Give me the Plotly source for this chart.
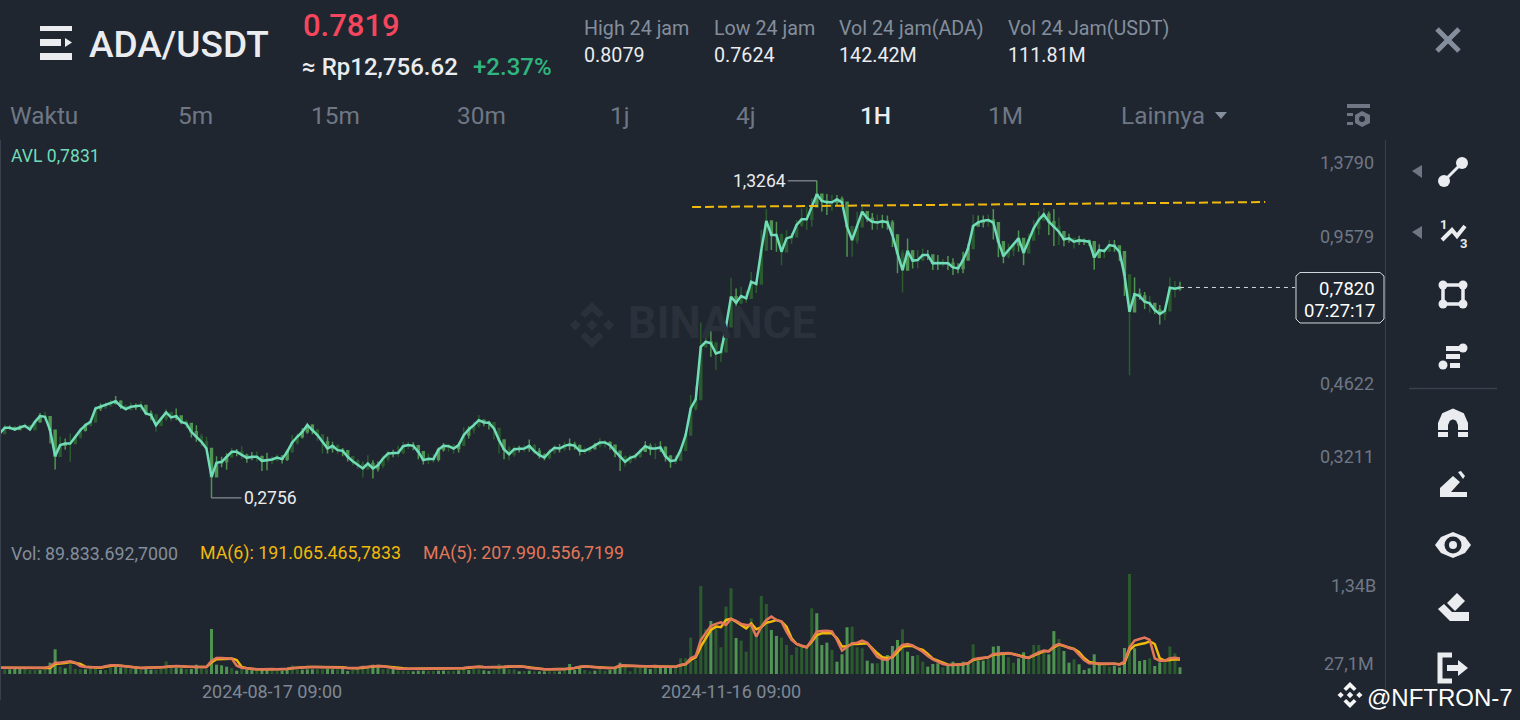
import math
import pandas as pd
import plotly.graph_objects as go

BG = "#1f2630"
GRID_LINE = "#3a414c"
LIGHT_GREEN = "#4f9450"
DARK_GREEN = "#2b5a2e"
ICON = "#eaecef"
GREY = "#848e9c"
DIM = "#6f7785"

W = 1520
H = 720

# daily values, 2024-06-24 to 2025-02-13
closes = [
    .3793, .3900, .3900, .3869, .3907, .3939, .3869, .4018, .4134, .4119,
    .3856, .3390, .3580, .3609, .3609, .3731, .3856, .3953, .4018, .4293,
    .4329, .4365, .4401, .4452, .4343, .4279, .4329, .4343, .4357, .4188,
    .4154, .3953, .4086, .4209, .4106, .4134, .4018, .3985, .3824, .3731,
    .3639, .3521, .3059, .3279, .3296, .3379, .3463, .3463, .3406, .3362,
    .3379, .3379, .3312, .3323, .3334, .3367, .3340, .3463, .3627, .3731,
    .3824, .3953, .3856, .3762, .3639, .3521, .3568, .3492, .3480, .3379,
    .3306, .3252, .3189, .3268, .3189, .3241, .3351, .3434, .3434, .3446,
    .3562, .3580, .3568, .3463, .3323, .3345, .3340, .3503, .3568, .3562,
    .3521, .3580, .3762, .3869, .3953, .4052, .4005, .3999, .3888, .3670,
    .3503, .3423, .3509, .3521, .3521, .3568, .3475, .3406, .3367, .3463,
    .3533, .3521, .3568, .3592, .3568, .3480, .3480, .3521, .3580, .3627,
    .3627, .3580, .3475, .3379, .3296, .3362, .3390, .3475, .3562, .3521,
    .3521, .3538, .3390, .3306, .3323, .3492, .3762, .4293, .4489, .5828,
    .5975, .5926, .5639, .5686, .6436, .7469, .7252, .7494, .7409, .8045,
    .7954, .9413, 1.0870, 1.0141, 1.0141, .9336, .9974, 1.0057, 1.0656, 1.0960,
    1.0960, 1.1669, 1.2405, 1.2003, 1.1924, 1.1924, 1.2101, 1.1924, 1.0568, .9892,
    1.0568, 1.1384, 1.1014, 1.0834, 1.0797, 1.0852, 1.0797, 1.0141, .9259, .8524,
    .9367, .8929, .8958, .9182, .9182, .8813, .8827, .8827, .8813, .8639,
    .8596, .8958, .9491, 1.0603, 1.0797, 1.0888, 1.0923, 1.0780, .9811, .9136,
    .9413, .9650, .9974, .9290, .9892, 1.0481, 1.0923, 1.1235, 1.0834, 1.0568,
    1.0309, .9924, .9974, .9811, .9876, .9844, .9811, .9078, .9413, .9367,
    .9650, .9602, .9336, .8316, .6934, .7568, .7494, .7287, .7227, .6992,
    .6854, .6968, .7810, .7771, .7820,
]
opens = [
    .3760, .3793, .3900, .3900, .3869, .3907, .3939, .3869, .4018, .4134,
    .4119, .3856, .3390, .3580, .3609, .3609, .3731, .3856, .3953, .4018,
    .4293, .4329, .4365, .4401, .4452, .4343, .4279, .4329, .4343, .4357,
    .4188, .4154, .3953, .4086, .4209, .4106, .4134, .4018, .3985, .3824,
    .3731, .3639, .3521, .3059, .3279, .3296, .3379, .3463, .3463, .3406,
    .3362, .3379, .3379, .3312, .3323, .3334, .3367, .3340, .3463, .3627,
    .3731, .3824, .3953, .3856, .3762, .3639, .3521, .3568, .3492, .3480,
    .3379, .3306, .3252, .3189, .3268, .3189, .3241, .3351, .3434, .3434,
    .3446, .3562, .3580, .3568, .3463, .3323, .3345, .3340, .3503, .3568,
    .3562, .3521, .3580, .3762, .3869, .3953, .4052, .4005, .3999, .3888,
    .3670, .3503, .3423, .3509, .3521, .3521, .3568, .3475, .3406, .3367,
    .3463, .3533, .3521, .3568, .3592, .3568, .3480, .3480, .3521, .3580,
    .3627, .3627, .3580, .3475, .3379, .3296, .3362, .3390, .3475, .3562,
    .3521, .3521, .3538, .3390, .3306, .3323, .3492, .3762, .4293, .4489,
    .5828, .5975, .5926, .5639, .5686, .6436, .7469, .7252, .7494, .7409,
    .8045, .7954, .9413, 1.0870, 1.0141, 1.0141, .9336, .9974, 1.0057, 1.0656,
    1.0960, 1.0960, 1.1669, 1.2405, 1.2003, 1.1924, 1.1924, 1.2101, 1.1924, 1.0568,
    .9892, 1.0568, 1.1384, 1.1014, 1.0834, 1.0797, 1.0852, 1.0797, 1.0141, .9259,
    .8524, .9367, .8929, .8958, .9182, .9182, .8813, .8827, .8827, .8813,
    .8639, .8596, .8958, .9491, 1.0603, 1.0797, 1.0888, 1.0923, 1.0780, .9811,
    .9136, .9413, .9650, .9974, .9290, .9892, 1.0481, 1.0923, 1.1235, 1.0834,
    1.0568, 1.0309, .9924, .9974, .9811, .9876, .9844, .9811, .9078, .9413,
    .9367, .9650, .9602, .9336, .8316, .6934, .7568, .7494, .7287, .7227,
    .6992, .6854, .6968, .7810, .7771,
]
highs = [
    .3860, .3960, .3945, .3925, .3950, .3985, .3950, .4040, .4200, .4223,
    .4119, .3780, .3731, .3700, .3793, .3760, .3900, .3990, .4090, .4340,
    .4400, .4420, .4480, .4565, .4470, .4370, .4420, .4400, .4450, .4360,
    .4250, .4170, .4120, .4280, .4220, .4290, .4130, .4060, .3990, .3953,
    .3790, .3731, .3497, .3390, .3380, .3440, .3530, .3510, .3562, .3430,
    .3460, .3470, .3400, .3446, .3390, .3420, .3410, .3500, .3762, .3790,
    .3890, .4000, .3970, .3880, .3731, .3731, .3639, .3590, .3530, .3480,
    .3390, .3340, .3300, .3406, .3323, .3300, .3400, .3480, .3500, .3568,
    .3640, .3640, .3630, .3568, .3450, .3434, .3423, .3540, .3620, .3600,
    .3600, .3630, .3913, .3930, .4018, .4154, .4060, .4040, .3985, .3856,
    .3639, .3560, .3560, .3570, .3580, .3680, .3600, .3530, .3440, .3510,
    .3580, .3600, .3640, .3700, .3640, .3590, .3540, .3560, .3620, .3710,
    .3670, .3650, .3590, .3463, .3400, .3410, .3440, .3520, .3650, .3610,
    .3610, .3650, .3560, .3410, .3400, .3530, .3830, .4587, .4800, .6570,
    .6240, .6538, .5975, .5926, .6570, .8201, .7779, .7846, .7700, .8451,
    .8125, 1.0398, 1.1531, 1.0732, 1.0834, 1.0222, 1.0398, 1.0250, 1.0923, 1.1565,
    1.1669, 1.2170, 1.3264, 1.2428, 1.2428, 1.2370, 1.2370, 1.2270, 1.1924, 1.0568,
    1.1384, 1.1669, 1.1315, 1.1315, 1.1219, 1.1219, 1.1176, 1.0923, 1.0141, .9413,
    .9974, .9413, .9413, .9491, .9413, .9182, .9182, .9000, .9136, .9040,
    .8813, .9336, .9722, 1.1219, 1.1176, 1.1176, 1.1219, 1.1531, 1.0222, .9602,
    .9722, .9762, 1.0375, .9924, 1.0222, 1.0923, 1.1430, 1.1613, 1.1400, 1.1531,
    1.1055, 1.0222, 1.0200, .9974, 1.0100, .9974, .9924, .9650, .9690, .9491,
    .9892, .9892, .9602, .9104, .8247, .8220, .7779, .7650, .7494, .7193,
    .7170, .6992, .8220, .8070, .8045,
]
lows = [
    .3770, .3860, .3865, .3840, .3870, .3890, .3850, .3860, .4000, .4040,
    .3609, .3173, .3430, .3500, .3296, .3590, .3700, .3830, .3930, .4000,
    .4240, .4280, .4330, .4380, .4280, .4240, .4250, .4260, .4250, .4150,
    .4050, .3824, .3930, .4040, .4030, .4050, .3970, .3890, .3720, .3640,
    .3560, .3420, .2756, .3170, .3210, .3170, .3370, .3390, .3340, .3280,
    .3320, .3300, .3150, .3160, .3260, .3300, .3270, .3310, .3540, .3590,
    .3700, .3790, .3780, .3660, .3434, .3434, .3450, .3430, .3390, .3300,
    .3240, .3180, .3049, .3170, .3034, .3140, .3200, .3300, .3370, .3380,
    .3430, .3510, .3490, .3340, .3252, .3260, .3279, .3300, .3470, .3470,
    .3430, .3450, .3580, .3700, .3793, .3900, .3930, .3870, .3680, .3434,
    .3340, .3323, .3380, .3450, .3460, .3463, .3420, .3350, .3320, .3340,
    .3430, .3450, .3480, .3490, .3500, .3400, .3430, .3460, .3500, .3540,
    .3540, .3500, .3370, .3151, .3220, .3270, .3330, .3360, .3460, .3406,
    .3340, .3460, .3300, .3200, .3260, .3340, .3480, .4037, .4250, .4860,
    .5880, .5546, .5196, .5410, .5728, .6992, .6905, .7203, .7250, .7714,
    .7610, .8125, 1.0222, .9413, .9336, .8735, .9650, .9700, 1.0141, 1.0568,
    1.0404, 1.0568, 1.1769, 1.1400, 1.1200, 1.1430, 1.1769, 1.1860, .9104, .9104,
    .9722, 1.0923, 1.0834, 1.0404, 1.0404, 1.0481, 1.0404, .9555, .8396, .7626,
    .8813, .8596, .8596, .8958, .8958, .8524, .8524, .8680, .8524, .8316,
    .8396, .8396, .8958, .9602, 1.0568, 1.0530, 1.0568, .9924, .9078, .8813,
    .9040, .9136, .9336, .8735, .9259, .9892, 1.0141, 1.0923, 1.0141, .9602,
    .9650, .9590, .9762, .9491, .9650, .9650, .9602, .8540, .9040, .9040,
    .9336, .9336, .8920, .7494, .5060, .7133, .7360, .7025, .6905, .6854,
    .6505, .6650, .7100, .7440, .7690,
]
# volume in millions
volumes = [
    54, 63, 63, 67, 67, 67, 54, 54, 54, 98,
    152, 331, 98, 76, 130, 67, 63, 63, 98, 76,
    54, 54, 80, 98, 89, 80, 72, 72, 54, 67,
    58, 58, 67, 170, 98, 80, 76, 67, 67, 125,
    72, 63, 603, 125, 116, 98, 80, 45, 67, 54,
    58, 54, 63, 54, 54, 45, 45, 54, 116, 63,
    58, 63, 63, 63, 63, 67, 63, 63, 76, 40,
    58, 63, 116, 89, 125, 89, 63, 67, 72, 45,
    45, 45, 36, 45, 45, 40, 40, 45, 45, 40,
    40, 49, 98, 54, 67, 63, 49, 40, 54, 134,
    76, 63, 63, 36, 40, 45, 36, 36, 36, 36,
    36, 36, 80, 134, 54, 98, 54, 36, 45, 67,
    45, 54, 80, 152, 89, 36, 80, 80, 80, 67,
    125, 89, 89, 89, 89, 210, 210, 487, 188, 1180,
    599, 711, 635, 358, 903, 1149, 483, 447, 299, 746,
    501, 1046, 939, 590, 510, 487, 389, 255, 358, 358,
    358, 881, 814, 389, 420, 322, 165, 264, 626, 635,
    358, 344, 179, 143, 143, 188, 255, 375, 456, 599,
    299, 241, 255, 165, 98, 134, 143, 89, 107, 165,
    107, 165, 152, 398, 179, 179, 197, 367, 375, 255,
    224, 152, 210, 291, 210, 389, 389, 291, 264, 575,
    469, 308, 152, 197, 130, 54, 76, 264, 121, 107,
    98, 112, 89, 349, 1340, 344, 174, 188, 210, 107,
    156, 156, 367, 277, 89.83,
]
ma5 = [
    85, 85, 85, 85, 85, 85, 85, 85, 85, 85,
    98, 152, 152, 161, 170, 152, 107, 94, 94, 85,
    89, 103, 116, 116, 107, 98, 94, 85, 80, 85,
    85, 85, 89, 98, 107, 107, 103, 98, 89, 94,
    94, 94, 179, 215, 215, 215, 206, 112, 85, 76,
    67, 63, 63, 67, 67, 63, 63, 72, 80, 85,
    94, 98, 94, 94, 94, 94, 94, 94, 85, 80,
    76, 80, 89, 98, 107, 107, 103, 89, 80, 72,
    76, 72, 72, 72, 72, 72, 72, 72, 72, 72,
    72, 72, 80, 89, 98, 98, 89, 89, 89, 94,
    98, 103, 103, 103, 98, 80, 72, 63, 63, 63,
    63, 58, 63, 76, 80, 98, 103, 98, 89, 85,
    80, 80, 85, 116, 112, 107, 103, 103, 103, 103,
    107, 98, 98, 98, 98, 121, 134, 210, 241, 456,
    545, 644, 671, 693, 657, 738, 711, 671, 657, 657,
    501, 635, 724, 769, 724, 702, 568, 456, 402, 375,
    358, 456, 568, 577, 581, 572, 456, 313, 367, 411,
    420, 447, 420, 322, 232, 197, 188, 241, 331, 389,
    402, 384, 344, 299, 241, 197, 165, 134, 121, 121,
    121, 130, 143, 197, 210, 219, 224, 268, 277, 277,
    282, 268, 246, 224, 219, 255, 291, 313, 304, 375,
    402, 380, 349, 331, 264, 188, 143, 143, 134, 134,
    134, 139, 125, 165, 358, 447, 469, 487, 456, 210,
    179, 179, 210, 219, 207.99,
]
ma6 = [
    85, 85, 85, 85, 85, 85, 85, 85, 85, 85,
    80, 134, 139, 148, 161, 152, 134, 98, 94, 85,
    85, 98, 112, 116, 112, 103, 94, 89, 80, 85,
    85, 85, 85, 94, 103, 107, 103, 98, 94, 94,
    94, 94, 156, 197, 201, 206, 206, 188, 94, 76,
    67, 63, 63, 63, 67, 67, 63, 67, 76, 85,
    89, 94, 94, 94, 94, 94, 94, 94, 89, 80,
    76, 76, 85, 94, 103, 107, 103, 94, 85, 76,
    76, 72, 72, 72, 72, 72, 72, 72, 72, 72,
    72, 72, 76, 85, 94, 98, 94, 89, 89, 89,
    94, 98, 103, 103, 98, 89, 76, 67, 63, 63,
    63, 63, 63, 72, 80, 94, 103, 98, 94, 85,
    80, 80, 85, 107, 112, 107, 103, 103, 103, 103,
    103, 98, 98, 98, 98, 116, 130, 188, 224, 367,
    478, 590, 635, 626, 724, 738, 702, 657, 612, 679,
    599, 626, 688, 702, 724, 702, 635, 478, 402, 375,
    358, 434, 523, 545, 550, 545, 478, 367, 367, 402,
    402, 411, 411, 344, 277, 224, 215, 224, 299, 367,
    375, 375, 344, 322, 268, 206, 179, 148, 125, 121,
    121, 130, 143, 188, 201, 215, 224, 259, 268, 277,
    277, 268, 250, 232, 215, 246, 277, 304, 308, 358,
    393, 375, 349, 335, 291, 215, 161, 148, 134, 134,
    139, 139, 130, 148, 322, 380, 398, 411, 438, 402,
    210, 179, 188, 197, 191.07,
]
# 1 where the candle and its volume bar are the darker green
dark_days = [
    1, 1, 0, 0, 0, 1, 1, 1, 0, 1,
    0, 0, 1, 0, 1, 1, 1, 0, 1, 1,
    0, 1, 1, 0, 0, 1, 1, 0, 1, 0,
    0, 1, 1, 1, 1, 0, 0, 1, 0, 0,
    1, 1, 0, 0, 0, 0, 1, 0, 1, 0,
    0, 1, 0, 0, 1, 1, 0, 0, 1, 1,
    0, 0, 0, 1, 1, 0, 0, 1, 0, 0,
    1, 1, 1, 1, 0, 0, 1, 1, 0, 1,
    1, 1, 0, 0, 0, 1, 1, 0, 0, 1,
    1, 0, 1, 0, 1, 1, 0, 0, 1, 1,
    0, 1, 1, 0, 1, 0, 1, 0, 0, 1,
    1, 0, 1, 0, 0, 0, 1, 1, 0, 1,
    1, 0, 0, 0, 1, 1, 1, 1, 0, 0,
    1, 0, 0, 0, 1, 1, 1, 1, 1, 1,
    1, 0, 1, 1, 1, 1, 0, 1, 1, 1,
    1, 1, 1, 0, 0, 1, 1, 1, 1, 1,
    1, 1, 0, 0, 0, 1, 0, 0, 0, 1,
    1, 1, 0, 0, 1, 0, 0, 0, 0, 1,
    0, 0, 1, 1, 0, 0, 0, 1, 0, 0,
    0, 0, 0, 1, 0, 0, 1, 0, 0, 0,
    1, 1, 0, 0, 1, 1, 1, 1, 0, 0,
    1, 0, 0, 1, 0, 0, 0, 0, 0, 1,
    1, 0, 0, 0, 1, 0, 0, 0, 1, 0,
    0, 1, 1, 1, 0,
]
assert len(closes) == len(opens) == len(highs) == len(lows) == len(volumes) == len(ma5) == len(ma6) == len(dark_days)

dates = pd.date_range("2024-06-24 09:00", periods=len(closes), freq="D")
price_ticks = [1.3790, 0.9579, 0.4622, 0.3211]
date_ticks = ["2024-08-17 09:00", "2024-11-16 09:00"]
trend_x = ["2024-11-08 15:30", "2025-03-02 06:30"]
trend_y = [1.165, 1.194]
last_x = [dates[-1], "2025-03-08 04:00"]


def px(x):
    return x / W


def py(y):
    return 1 - y / H


def poly(pts, fill=None, line=None, width=0, closed=True, layer="above"):
    d = ""
    for i, (x, y) in enumerate(pts):
        d += ("M" if i == 0 else "L") + f"{px(x):.5f},{py(y):.5f}"
    if closed:
        d += "Z"
    s = dict(type="path", xref="paper", yref="paper", path=d, layer=layer, line=dict(width=width))
    if fill:
        s["fillcolor"] = fill
    if line:
        s["line"] = dict(color=line, width=width)
    return s


def circle(cx, cy, r, fill, layer="above"):
    return dict(type="circle", xref="paper", yref="paper", layer=layer, fillcolor=fill, line=dict(width=0),
                x0=px(cx - r), x1=px(cx + r), y0=py(cy + r), y1=py(cy - r))


def rect(x0, y0, x1, y1, fill):
    return poly([(x0, y0), (x1, y0), (x1, y1), (x0, y1)], fill=fill)


def diamond(cx, cy, r, fill, layer="above"):
    return poly([(cx, cy - r), (cx + r, cy), (cx, cy + r), (cx - r, cy)], fill=fill, layer=layer)


def logo(cx, cy, s, fill, layer="above"):
    out = [diamond(cx, cy, s * .25, fill, layer), diamond(cx - s * .72, cy, s * .24, fill, layer),
           diamond(cx + s * .72, cy, s * .24, fill, layer)]
    out.append(poly([(cx, cy - s), (cx + s * .5, cy - s * .5), (cx + s * .3, cy - s * .3), (cx, cy - s * .6),
                     (cx - s * .3, cy - s * .3), (cx - s * .5, cy - s * .5)], fill=fill, layer=layer))
    out.append(poly([(cx, cy + s), (cx + s * .5, cy + s * .5), (cx + s * .3, cy + s * .3), (cx, cy + s * .6),
                     (cx - s * .3, cy + s * .3), (cx - s * .5, cy + s * .5)], fill=fill, layer=layer))
    return out


def label(x, y, text, size, color, anchor="left", weight=400, family="Roboto"):
    # annotations carry about 2px of padding
    if anchor == "left":
        x -= 2
    elif anchor == "right":
        x += 2
    return dict(xref="paper", yref="paper", x=px(x), y=py(y), text=text, showarrow=False, xanchor=anchor,
                yanchor="middle", font=dict(size=size, color=color, weight=weight, family=family))


fig = go.Figure()

for shade, color in [(0, LIGHT_GREEN), (1, DARK_GREEN)]:
    keep = [i for i in range(len(closes)) if dark_days[i] == shade]
    fig.add_trace(go.Candlestick(
        x=[dates[i] for i in keep],
        open=[opens[i] for i in keep],
        high=[highs[i] for i in keep],
        low=[lows[i] for i in keep],
        close=[closes[i] for i in keep],
        increasing=dict(line=dict(color=color, width=1.5), fillcolor=color),
        decreasing=dict(line=dict(color=color, width=1.5), fillcolor=color),
        whiskerwidth=0, hoverinfo="skip", showlegend=False,
    ))

fig.add_trace(go.Scatter(x=dates, y=closes, mode="lines", line=dict(color="#70dcb9", width=2.5), hoverinfo="skip"))
fig.add_trace(go.Scatter(x=trend_x, y=trend_y, mode="lines", line=dict(color="#f0b90b", width=2, dash="9px,4px"),
                         hoverinfo="skip"))
fig.add_trace(go.Scatter(x=last_x, y=[closes[-1], closes[-1]], mode="lines",
                         line=dict(color="#d5d8dc", width=1, dash="4px,4px"), hoverinfo="skip"))

fig.add_trace(go.Bar(x=dates, y=volumes, yaxis="y2", marker=dict(color=[DARK_GREEN if d else LIGHT_GREEN for d in dark_days], line=dict(width=0)),
                     hoverinfo="skip"))
fig.add_trace(go.Scatter(x=dates, y=ma6, yaxis="y2", mode="lines", line=dict(color="#f0b90b", width=2.5), hoverinfo="skip"))
fig.add_trace(go.Scatter(x=dates, y=ma5, yaxis="y2", mode="lines", line=dict(color="#e3775a", width=2.5), hoverinfo="skip"))

shapes = []
# panel lines
shapes.append(poly([(1385.5, 140), (1385.5, 700)], line=GRID_LINE, width=1, closed=False))
shapes.append(poly([(0.5, 140), (0.5, 700)], line=GRID_LINE, width=1, closed=False))
shapes.append(poly([(1409, 388.5), (1497, 388.5)], line=GRID_LINE, width=1.5, closed=False))
# watermark
shapes += logo(592, 325, 23, "#2a313b", layer="below")
# menu icon
shapes.append(rect(40, 26, 72, 31, ICON))
shapes.append(rect(40, 39, 61, 46, ICON))
shapes.append(poly([(65, 38), (72, 42.5), (65, 47)], fill=ICON))
shapes.append(rect(40, 53, 72, 60, ICON))
# close
shapes.append(poly([(1437, 29), (1459, 51)], line=GREY, width=5, closed=False))
shapes.append(poly([(1459, 29), (1437, 51)], line=GREY, width=5, closed=False))
# lainnya triangle
shapes.append(poly([(1215, 112), (1227, 112), (1221, 119)], fill=GREY))
# settings
shapes.append(rect(1347, 104, 1370, 108, DIM))
shapes.append(rect(1347, 113, 1353, 116, DIM))
shapes.append(rect(1347, 122, 1353, 125, DIM))
shapes.append(poly([(1362, 111), (1370, 115), (1370, 123), (1362, 127), (1355, 123), (1355, 115)], fill=DIM))
shapes.append(circle(1362, 119, 3, BG))
# tool arrows
shapes.append(poly([(1412, 171), (1422, 165), (1422, 178)], fill=DIM))
shapes.append(poly([(1412, 232), (1422, 226), (1422, 239)], fill=DIM))
# line tool
shapes.append(poly([(1444, 181), (1462, 163)], line=ICON, width=3, closed=False))
shapes.append(circle(1444, 181, 6, ICON))
shapes.append(circle(1462, 163, 6, ICON))
# fib zigzag
shapes.append(poly([(1442, 240), (1452, 230), (1457, 236), (1465, 226)], line=ICON, width=4, closed=False))
# rectangle tool
shapes.append(poly([(1443, 285), (1463, 285), (1463, 304), (1443, 304)], line=ICON, width=3.5))
for cx, cy in [(1443, 285), (1463, 285), (1443, 304), (1463, 304)]:
    shapes.append(circle(cx, cy, 4.5, ICON))
# long tool
shapes.append(rect(1446, 346, 1462, 351, ICON))
shapes.append(rect(1446, 354, 1460, 359, ICON))
shapes.append(rect(1450, 363, 1460, 368, ICON))
shapes.append(circle(1463, 348, 4.5, ICON))
shapes.append(circle(1443, 365, 4.5, ICON))
# magnet
shapes.append(poly([(1443, 430), (1443, 424), (1446, 417), (1453, 414), (1460, 417), (1463, 424), (1463, 430)],
                   line=ICON, width=10, closed=False))
shapes.append(rect(1438, 432, 1448, 437, ICON))
shapes.append(rect(1458, 432, 1468, 437, ICON))
# pencil
shapes.append(poly([(1440, 497), (1467, 497), (1467, 492), (1451, 492), (1460, 482), (1453, 476), (1440, 488)], fill=ICON))
shapes.append(poly([(1458, 472), (1461, 471), (1465, 476), (1463, 479)], fill=ICON))
# eye
shapes.append(poly([(1435, 545), (1441, 537), (1453, 532), (1465, 537), (1471, 545), (1465, 553), (1453, 558), (1441, 553)], fill=ICON))
shapes.append(circle(1453, 545, 8.5, BG))
shapes.append(circle(1453, 545, 4, ICON))
# eraser
shapes.append(poly([(1457, 593), (1465, 601), (1455, 611), (1447, 603)], fill=ICON))
shapes.append(poly([(1438, 609), (1444, 604), (1452, 612), (1469, 612), (1469, 621), (1450, 621)], fill=ICON))
# exit
shapes.append(poly([(1452, 655), (1440, 655), (1440, 681), (1452, 681)], line=ICON, width=5, closed=False))
shapes.append(rect(1447, 665, 1458, 671, ICON))
shapes.append(poly([(1458, 660), (1468, 668), (1458, 676)], fill=ICON))
# price box
shapes.append(poly([(1300, 272.5), (1380, 272.5), (1384, 276), (1384, 319), (1380, 323), (1300, 323), (1296, 319), (1296, 276)],
                   fill=BG, line="#d5d8dc", width=1))
# small logo at the corner
shapes += logo(1350, 695, 13, "#f5f5f5")

high_i = highs.index(max(highs))
low_i = lows.index(min(lows))

annotations = [
    label(89, 44, "ADA/USDT", 37, ICON, weight=500),
    label(303, 26, "0.7819", 31, "#f6465d", weight=500),
    label(302, 67, "≈ Rp12,756.62", 24, ICON, weight=500),
    label(473, 67, "+2.37%", 24, "#2fb57f", weight=500),
    label(584, 29, "High 24 jam", 19.7, GREY),
    label(584, 56, "0.8079", 19.7, ICON),
    label(714, 29, "Low 24 jam", 19.7, GREY),
    label(714, 56, "0.7624", 19.7, ICON),
    label(839, 29, "Vol 24 jam(ADA)", 19.7, GREY),
    label(839, 56, "142.42M", 19.7, ICON),
    label(1008, 29, "Vol 24 Jam(USDT)", 19.7, GREY),
    label(1008, 56, "111.81M", 19.7, ICON),
    label(10, 116, "Waktu", 24.4, DIM),
    label(195, 116, "5m", 24.4, DIM, anchor="center"),
    label(335, 116, "15m", 24.4, DIM, anchor="center"),
    label(481, 116, "30m", 24.4, DIM, anchor="center"),
    label(620, 116, "1j", 24.4, DIM, anchor="center"),
    label(746, 116, "4j", 24.4, DIM, anchor="center"),
    label(875, 116, "1H", 24.4, ICON, anchor="center", weight=500),
    label(1005, 116, "1M", 24.4, DIM, anchor="center"),
    label(1163, 116, "Lainnya", 24.4, DIM, anchor="center"),
    label(11, 156, "AVL 0,7831", 17.6, "#70dcb9"),
    label(11, 553, "Vol: 89.833.692,7000", 17.8, GREY),
    label(200, 553, "MA(6): 191.065.465,7833", 17.8, "#f0b90b"),
    label(423, 553, "MA(5): 207.990.556,7199", 17.8, "#e3775a"),
    label(722, 323, "BINANCE", 44.5, "#2a313b", anchor="center", weight=700),
    label(1375, 289, "0,7820", 18.5, "#ffffff", anchor="right"),
    label(1375, 311, "07:27:17", 18.5, "#ffffff", anchor="right"),
    label(1443, 224, "1", 13, ICON, anchor="center", weight=700),
    label(1463, 243, "3", 13, ICON, anchor="center", weight=700),
    label(1367, 697, "@NFTRON-7", 24, "#ffffff", family="Liberation Sans"),
    # volume axis labels sit off their own value, like the app draws them
    dict(xref="paper", yref="y2", x=px(1378), y=1340, yshift=-11, text="1,34B", showarrow=False, xanchor="right",
         font=dict(size=18, color=DIM, family="Roboto")),
    dict(xref="paper", yref="y2", x=px(1376), y=27.1, yshift=8, text="27,1M", showarrow=False, xanchor="right",
         font=dict(size=18, color=DIM, family="Roboto")),
    # high and low callouts
    dict(x=dates[high_i], y=math.log10(highs[high_i]), xref="x", yref="y", text=f"{highs[high_i]:.4f}".replace(".", ","),
         showarrow=True, arrowhead=0, arrowwidth=1, arrowcolor="#a0a5ad", ax=-29, ay=0, xanchor="right",
         font=dict(size=17.5, color="#eaecef", family="Roboto")),
    dict(x=dates[low_i], y=math.log10(lows[low_i]), xref="x", yref="y", text=f"{lows[low_i]:.4f}".replace(".", ","),
         showarrow=True, arrowhead=0, arrowwidth=1, arrowcolor="#a0a5ad", ax=30, ay=0, xanchor="left",
         font=dict(size=17.5, color="#eaecef", family="Roboto")),
]

fig.update_layout(
    width=W,
    height=H,
    margin=dict(l=0, r=0, t=0, b=0),
    paper_bgcolor=BG,
    plot_bgcolor=BG,
    showlegend=False,
    separators=",.",
    bargap=0.4,
    boxgap=0.45,
    font=dict(family="Roboto"),
    shapes=shapes,
    annotations=annotations,
    xaxis=dict(
        domain=[0, 1385 / W],
        anchor="y2",
        type="date",
        range=["2024-06-24 10:41", "2025-03-26 00:36"],
        tickvals=date_ticks,
        tickformat="%Y-%m-%d %H:%M",
        tickfont=dict(size=18, color="#7f8895"),
        ticks="outside",
        ticklen=1,
        tickcolor=BG,
        showgrid=False,
        zeroline=False,
        showline=False,
        rangeslider=dict(visible=False),
    ),
    yaxis=dict(
        domain=[1 - 540 / H, 1 - 140 / H],
        anchor="x",
        side="right",
        type="log",
        range=[-0.6503, 0.2106],
        tickvals=price_ticks,
        tickformat=".4f",
        ticklabelposition="inside",
        ticklabelshift=-10,
        ticklabelstandoff=8,
        tickfont=dict(size=18, color=DIM),
        showgrid=False,
        zeroline=False,
        showline=False,
    ),
    yaxis2=dict(
        domain=[1 - 674 / H, 1 - 540 / H],
        anchor="x",
        side="right",
        range=[0, 1795.6],
        showticklabels=False,
        showgrid=False,
        zeroline=False,
        showline=False,
    ),
)

fig.write_html(
    "out.html",
    config={"displayModeBar": False},
    post_script="document.body.style.margin='0';document.body.style.overflow='hidden';",
)
